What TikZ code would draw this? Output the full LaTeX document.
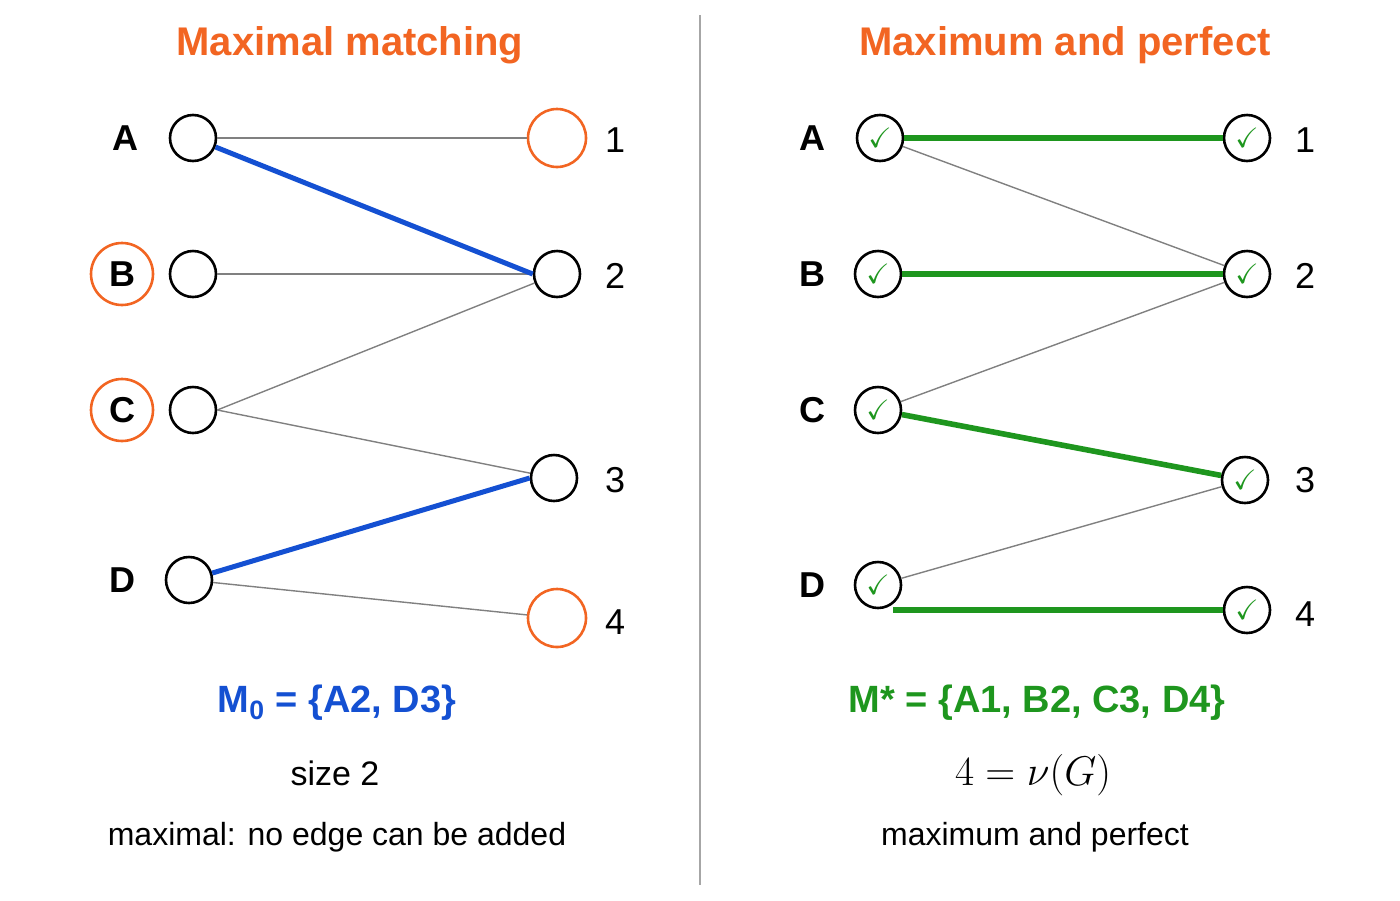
\documentclass[tikz,border=0pt]{standalone}
\usepackage{amssymb}
\usepackage{fontspec}
\setmainfont{Liberation Sans}
\begin{document}
\begin{tikzpicture}[x=0.5pt,y=-0.5pt,
 v/.style={circle,draw,line width=1.3pt,minimum size=23pt,inner sep=0pt},
 vo/.style={v,draw={rgb,255:red,242;green,101;blue,34},minimum size=29pt},
 lab/.style={font=\bfseries\fontsize{18}{20}\selectfont},
 num/.style={font=\fontsize{18}{20}\selectfont},
 ed/.style={draw=gray,line width=0.7pt},
 bl/.style={draw={rgb,255:red,20;green,80;blue,210},line width=2.5pt},
 gr/.style={draw={rgb,255:red,30;green,150;blue,30},line width=2.8pt},
 ck/.style={v,font=\fontsize{14}{14}\selectfont\color{grn}}]
\definecolor{org}{RGB}{242,101,34}
\definecolor{grn}{RGB}{30,150,30}
\definecolor{blu}{RGB}{20,80,210}
\useasboundingbox (0,0) rectangle (1400,900);
\draw[gray!70,line width=0.6pt] (700,15) -- (700,885);
\node[text=org,font=\bfseries\fontsize{20}{24}\selectfont] (t1) at (350,45) {Maximal matching};
\node[text=org,font=\bfseries\fontsize{20}{24}\selectfont] (t2) at (1065,45) {Maximum and perfect};
% left
\node[v] (A) at (193,138) {}; \node[v] (B) at (193,274) {};
\node[v] (C) at (193,410) {}; \node[v] (D) at (189,580) {};
\node[vo] (n1) at (557,138) {}; \node[v] (n2) at (557,274) {};
\node[v] (n3) at (554,478) {}; \node[vo] (n4) at (557,618) {};
\node[lab] (lA) at (125,138) {A};
\node[lab,circle,draw=org,line width=1.3pt,minimum size=31pt,inner sep=0pt] (lB) at (122,274) {B};
\node[lab,circle,draw=org,line width=1.3pt,minimum size=31pt,inner sep=0pt] (lC) at (122,410) {C};
\node[lab] (lD) at (122,580) {D};
\node[num] (l1) at (615,140) {1}; \node[num] (l2) at (615,276) {2};
\node[num] (l3) at (615,480) {3}; \node[num] (l4) at (615,622) {4};
\draw[ed] (A) -- (n1); \draw[ed] (B) -- (n2); \draw[ed] (C.east) -- (n2);
\draw[ed] (C.east) -- (n3); \draw[ed] (D) -- (n4);
\draw[bl] (A) -- (n2.west); \draw[bl] (D) -- (n3.west);
\node[text=blu,font=\bfseries\fontsize{19}{22}\selectfont] (m0) at (337,703) {M\textsubscript{0} = \{A2,\ D3\}};
\node[font=\fontsize{17}{20}\selectfont] (s2) at (335,773) {size 2};
\node[font=\fontsize{16}{20}\selectfont] (mx) at (337,837) {maximal: no edge can be added};
% right
\node[ck] (RA) at (880,138) {$\checkmark$}; \node[ck] (RB) at (878,274) {$\checkmark$};
\node[ck] (RC) at (878,410) {$\checkmark$}; \node[ck] (RD) at (878,585) {$\checkmark$};
\node[ck] (R1) at (1247,138) {$\checkmark$}; \node[ck] (R2) at (1247,274) {$\checkmark$};
\node[ck] (R3) at (1245,480) {$\checkmark$}; \node[ck] (R4) at (1247,610) {$\checkmark$};
\node[lab] (rA) at (812,138) {A}; \node[lab] (rB) at (812,274) {B};
\node[lab] (rC) at (812,410) {C}; \node[lab] (rD) at (812,585) {D};
\node[num] (r1) at (1305,140) {1}; \node[num] (r2) at (1305,276) {2};
\node[num] (r3) at (1305,480) {3}; \node[num] (r4) at (1305,614) {4};
\draw[ed] (RA) -- (R2); \draw[ed] (RC) -- (R2); \draw[ed] (RD) -- (R3);
\draw[gr] (RA) -- (R1); \draw[gr] (RB) -- (R2); \draw[gr] (RC) -- (R3);
\coordinate (d4) at (893,610);
\draw[gr] (d4) -- (R4.west);
\node[text=grn,font=\bfseries\fontsize{19}{22}\selectfont] (ms) at (1037,703) {M* = \{A1,\ B2,\ C3,\ D4\}};
\node[font=\fontsize{20}{22}\selectfont] (nu) at (1033,775) {$4=\nu(G)$};
\node[font=\fontsize{16}{20}\selectfont] (mp) at (1035,837) {maximum and perfect};
\end{tikzpicture}
\end{document}
